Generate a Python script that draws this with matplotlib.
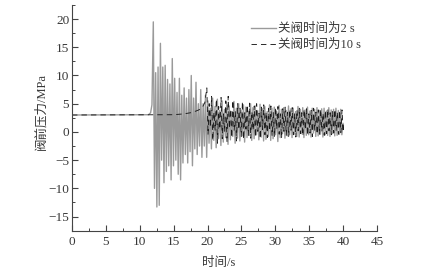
import numpy as np
import matplotlib.pyplot as plt

# 关阀时间为2 s : flat part then oscillation peaks (max / min per cycle)
g_pre_t = [0.0, 11.3, 11.6, 11.8]
g_pre_v = [3.0, 3.05, 3.4, 4.8]
g_t0, g_step = 12.0, 0.35
g_max = [19.5, 10.5, 11.5, 15.7, 11.5, 11.8, 9.3, 8.5, 13.0, 9.5,
         7.0, 9.5, 6.5, 7.8, 6.0, 7.5, 10.0, 6.0, 8.8, 5.0,
         7.5, 5.0, 6.5, 5.5, 4.2, 6.0, 4.5, 5.8, 3.8, 5.5,
         4.0, 5.2, 4.6, 3.6, 5.4, 4.2, 5.0, 3.9, 4.8, 4.4,
         3.7, 5.0, 4.3, 4.6, 3.8, 4.9, 4.1, 4.5, 3.6, 4.8,
         4.2, 4.4, 3.7, 4.7, 4.0, 4.3, 3.8, 4.6, 4.1, 4.2,
         3.6, 4.5, 4.0, 4.3, 3.9, 4.4, 3.7, 4.2, 4.0, 4.3,
         3.8, 4.1, 4.2, 3.7, 4.3, 3.9, 4.0, 4.2, 3.8, 4.0]
g_min = [-10.0, -13.3, -13.0, -5.0, -9.0, -7.0, -6.0, -8.5, -6.0, -5.0,
         -7.5, -8.5, -5.5, -4.0, -5.5, -3.5, -6.0, -3.0, -4.0, -2.5,
         -4.5, -2.5, -4.5, -2.0, -3.0, -1.5, -2.8, -1.2, -2.4, -1.8,
         -1.0, -2.2, -1.4, -0.8, -2.0, -1.1, -1.6, -0.7, -1.8, -1.0,
         -0.6, -1.5, -1.2, -0.5, -1.4, -0.9, -1.6, -1.3, -0.8, -1.5,
         -1.2, -0.5, -1.7, -1.0, -0.3, -1.1, -0.7, -0.5, -1.0, -0.4,
         -0.8, -0.9, -0.3, -1.0, -0.6, -0.5, -0.9, -0.2, -0.8, -0.7,
         -0.4, -0.9, -0.5, -0.6, -0.8, -0.3, -0.7, -0.6, -0.4, -0.5]

# 关阀时间为10 s
d_pre_t = [0.0, 15.0, 16.5, 17.5, 18.3, 18.9, 19.3, 19.6]
d_pre_v = [3.0, 3.05, 3.2, 3.4, 3.7, 4.0, 4.5, 5.2]
d_t0, d_step = 19.9, 0.35
d_max = [7.8, 5.0, 6.3, 3.5, 5.8, 4.5, 6.1, 3.2, 5.5, 6.3,
         4.0, 5.6, 3.6, 5.0, 4.2, 5.4, 3.4, 4.8, 5.1, 3.6,
         4.6, 5.0, 3.3, 4.4, 4.8, 3.5, 4.2, 4.6, 3.4, 4.3,
         4.5, 3.2, 4.1, 4.4, 3.5, 4.0, 4.3, 3.3, 3.9, 4.2,
         3.4, 4.0, 4.1, 3.2, 3.8, 4.2, 3.5, 3.9, 4.0, 3.3,
         3.8, 4.1, 3.4, 3.7, 4.0, 3.5, 3.8, 3.9]
d_min = [-0.5, 0.8, -1.5, 0.3, -2.0, 0.5, -1.2, 0.0, -1.8, 0.6,
         -1.0, 0.2, -1.6, 0.4, -0.8, -1.3, 0.5, -0.6, -1.1, 0.3,
         -0.9, 0.1, -1.2, 0.4, -0.5, -1.0, 0.2, -0.7, -0.9, 0.5,
         -0.4, -1.1, 0.1, -0.6, -0.8, 0.3, -0.5, -0.9, 0.2, -0.3,
         -0.7, 0.4, -0.6, -0.2, -0.8, 0.3, -0.4, -0.5, 0.1, -0.6,
         -0.3, 0.2, -0.5, -0.2, 0.3, -0.4, -0.1, 0.0]
end_t, end_v = 40.0, 1.5


def build(pre_t, pre_v, t0, step, vmax, vmin):
    # interleave max/min peaks on a regular time grid
    n = len(vmax)
    tp = t0 + step * np.arange(n)
    t = np.empty(2 * n)
    v = np.empty(2 * n)
    t[0::2], t[1::2] = tp, tp + step / 2
    v[0::2], v[1::2] = vmax, vmin
    t = np.concatenate([pre_t, t, [end_t]])
    v = np.concatenate([pre_v, v, [end_v]])
    return t, v


fam = ['Liberation Serif', 'Noto Sans CJK SC']
plt.rcParams['font.family'] = fam
txt = '#383838'

fig = plt.figure(figsize=(4.35, 2.74), dpi=100)
ax = fig.add_axes([0.1655, 0.158, 0.701, 0.824])

tg, vg = build(g_pre_t, g_pre_v, g_t0, g_step, g_max, g_min)
td, vd = build(d_pre_t, d_pre_v, d_t0, d_step, d_max, d_min)
ax.plot(tg, vg, color='#9a9a9a', lw=1.0, label='关阀时间为2 s')
ax.plot(td, vd, color='#1a1a1a', lw=0.65, dashes=(6, 4.5), label='关阀时间为10 s')

ax.set_xlim(0, 45)
ax.set_ylim(-17.5, 22.5)
ax.set_xticks(np.arange(0, 46, 5))
ax.set_yticks(np.arange(-15, 21, 5))
ax.set_xticks(np.arange(2.5, 45, 5), minor=True)
ax.set_yticks(np.arange(-17.5, 22.6, 5), minor=True)
for s in ['top', 'right']:
    ax.spines[s].set_visible(False)
for s in ['left', 'bottom']:
    ax.spines[s].set_color('#444444')
    ax.spines[s].set_linewidth(0.8)
ax.tick_params(which='major', direction='in', length=4, width=0.8,
               colors='#444444', labelcolor=txt, labelsize=9.5)
ax.tick_params(which='minor', direction='in', length=2, width=0.7,
               colors='#444444')
ax.tick_params(axis='y', pad=2)

ax.set_xlabel('时间/s', color=txt, fontsize=9)
ax.xaxis.set_label_coords(0.48, -0.115)
ax.set_ylabel('阀前压力/MPa', color=txt, fontsize=9)
ax.yaxis.set_label_coords(-0.08, 0.53)

leg = ax.legend(loc='upper left', bbox_to_anchor=(251 / 435, 1 - 23 / 274),
                bbox_transform=fig.transFigure, frameon=False,
                fontsize=9, handlelength=2.0, handletextpad=0.15,
                labelspacing=0.35, borderaxespad=0, borderpad=0)
for t in leg.get_texts():
    t.set_color(txt)

fig.savefig('out.png', dpi=100)
